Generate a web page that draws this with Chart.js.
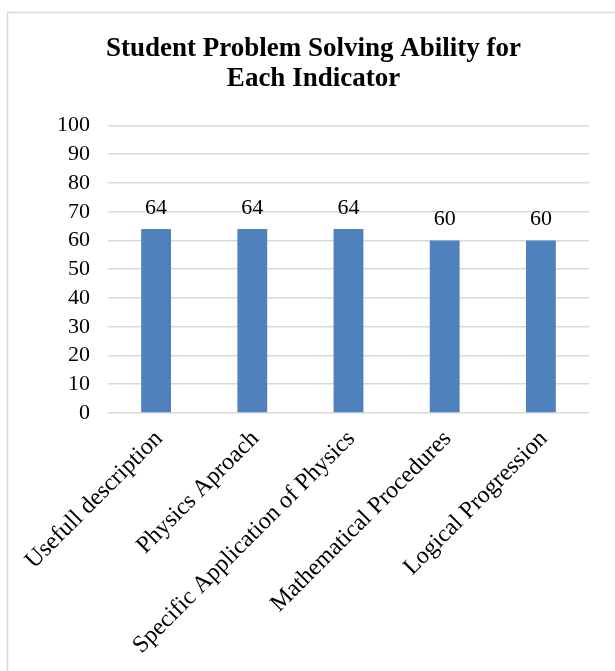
<!DOCTYPE html>
<html>
<head>
<meta charset="utf-8">
<script src="https://cdn.jsdelivr.net/npm/chart.js@4/dist/chart.umd.min.js"></script>
<style>
body { margin: 0; background: #fff; overflow: hidden; }
</style>
</head>
<body>
<canvas id="IndicatorChart" width="615" height="671"></canvas>
<script>
var titleLines = ["Student Problem Solving Ability for", "Each Indicator"];
var indicators = ["Usefull description", "Physics Aproach", "Specific Application of Physics", "Mathematical Procedures", "Logical Progression"];
var scores = [64, 64, 64, 60, 60];
var yMin = 0, yMax = 100, yStep = 10;

var serif = "'Liberation Serif', 'Times New Roman', serif";

// white page + light grey frame like the Word chart box
var framePlugin = {
	id: "frame",
	beforeDraw: function(chart) {
		var ctx = chart.ctx;
		ctx.save();
		ctx.fillStyle = "#fff";
		ctx.fillRect(0, 0, chart.width, chart.height);
		ctx.strokeStyle = "#d9d9d9";
		ctx.lineWidth = 1.5;
		ctx.strokeRect(7.5, 12.5, 700, 700);
		ctx.restore();
	}
};

// value labels above each bar
var valuePlugin = {
	id: "values",
	afterDatasetsDraw: function(chart) {
		var ctx = chart.ctx;
		var meta = chart.getDatasetMeta(0);
		ctx.save();
		ctx.font = "22px " + serif;
		ctx.fillStyle = "#000";
		ctx.textAlign = "center";
		ctx.textBaseline = "alphabetic";
		meta.data.forEach(function(bar, i) {
			ctx.fillText(chart.data.datasets[0].data[i], bar.x, bar.y - 15);
		});
		ctx.restore();
	}
};

new Chart(document.getElementById("IndicatorChart").getContext("2d"), {
	type: "bar",
	data: {
		labels: indicators,
		datasets: [{
			data: scores,
			backgroundColor: "#4f81bd",
			borderWidth: 0,
			categoryPercentage: 1,
			barPercentage: 0.31
		}]
	},
	options: {
		responsive: false,
		animation: false,
		layout: {
			padding: { left: 14, right: 2, top: 0, bottom: 0 }
		},
		plugins: {
			legend: { display: false },
			tooltip: { enabled: false },
			title: {
				display: true,
				text: titleLines,
				color: "#000",
				font: { family: serif, size: 27, weight: "bold", lineHeight: 1.12 },
				padding: { top: 34, bottom: 31 }
			}
		},
		scales: {
			x: {
				grid: { display: false },
				border: { display: false },
				ticks: {
					color: "#000",
					font: { family: serif, size: 24 },
					minRotation: 45,
					maxRotation: 45,
					autoSkip: false,
					labelOffset: 3,
					padding: 4
				},
				afterFit: function(scale) { scale.height = 258; }
			},
			y: {
				min: yMin,
				max: yMax,
				border: { display: false },
				grid: { color: "#d9d9d9", lineWidth: 1.5, drawTicks: false },
				ticks: {
					stepSize: yStep,
					autoSkip: false,
					color: "#000",
					font: { family: serif, size: 22, lineHeight: 1 },
					padding: 18
				},
				afterFit: function(scale) { scale.width = 94; }
			},
			spacer: {
				position: "right",
				display: true,
				grid: { display: false },
				border: { display: false },
				ticks: { display: false },
				afterFit: function(scale) { scale.width = 24; }
			}
		}
	},
	plugins: [framePlugin, valuePlugin]
});
</script>
</body>
</html>
